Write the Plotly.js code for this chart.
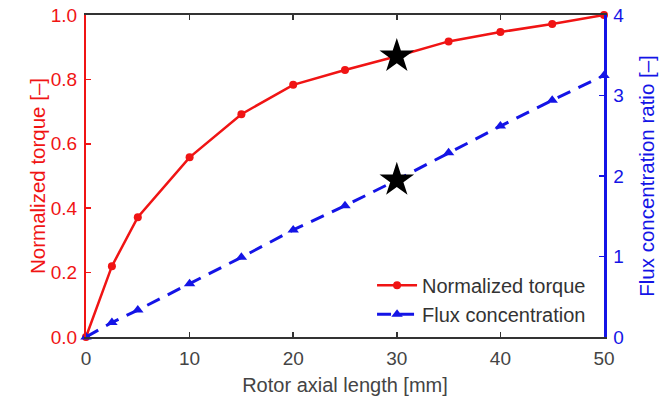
<!DOCTYPE html>
<html>
<head>
<meta charset="utf-8">
<script src="https://cdn.plot.ly/plotly-3.0.1.min.js"></script>
<style>html,body{margin:0;padding:0;background:#fff;}#chart{width:672px;height:402px;}</style>
</head>
<body>
<div id="chart"></div>
<script>
const lengthMm = [0, 2.5, 5, 10, 15, 20, 25, 30, 35, 40, 45, 50];
const torque = [0, 0.22, 0.372, 0.558, 0.692, 0.783, 0.829, 0.872, 0.918, 0.947, 0.972, 1.0];
const fluxRatio = [0, 0.18, 0.335, 0.66, 0.99, 1.33, 1.63, 1.95, 2.29, 2.62, 2.94, 3.25];
const starX = [30];
const starTorque = [0.872];
const starFlux = [1.95];
const xTicks = [0, 10, 20, 30, 40, 50];
const yTicks = [0, 0.2, 0.4, 0.6, 0.8, 1.0];
const y2Ticks = [0, 1, 2, 3, 4];

const RED = 'rgb(240,20,20)';
const BLUE = 'rgb(20,20,230)';
const FONT = '"Liberation Sans", Arial, Helvetica, sans-serif';

const traces = [
  {x: lengthMm, y: torque, name: 'Normalized torque', type: 'scatter', mode: 'lines+markers',
   line: {color: RED, width: 2.5}, marker: {symbol: 'circle', size: 8, color: RED}, cliponaxis: false},
  {x: lengthMm, y: fluxRatio, name: 'Flux concentration', type: 'scatter', mode: 'lines+markers', yaxis: 'y2',
   line: {color: BLUE, width: 3, dash: '14px,9px'}, marker: {symbol: 'triangle-up', size: 10, color: BLUE}, cliponaxis: false},
  {x: starX, y: starTorque, type: 'scatter', mode: 'markers', showlegend: false,
   marker: {symbol: 'star', size: 26, color: 'black'}, cliponaxis: false},
  {x: starX, y: starFlux, type: 'scatter', mode: 'markers', yaxis: 'y2', showlegend: false,
   marker: {symbol: 'star', size: 26, color: 'black'}, cliponaxis: false}
];

const layout = {
  width: 672, height: 402,
  margin: {l: 86, r: 68, t: 15, b: 65},
  paper_bgcolor: '#fff', plot_bgcolor: '#fff',
  font: {family: FONT, size: 19, color: '#444'},
  showlegend: true,
  legend: {x: 0.975, xanchor: 'right', y: 0.01, yanchor: 'bottom', bgcolor: 'rgba(255,255,255,0)',
           font: {family: FONT, size: 20, color: '#333'}, tracegroupgap: 0, itemwidth: 40},
  xaxis: {
    range: [0, 50], tickvals: xTicks, ticktext: xTicks.map(String),
    showline: true, linecolor: '#333', linewidth: 2, mirror: 'ticks',
    ticks: 'inside', ticklen: 5, tickwidth: 1.5, tickcolor: '#333',
    showgrid: false, zeroline: false, ticklabelstandoff: 3,
    tickfont: {family: FONT, size: 19, color: '#444'},
    title: {text: 'Rotor axial length [mm]', font: {family: FONT, size: 20, color: '#444'}, standoff: 10}
  },
  yaxis: {
    range: [0, 1], tickvals: yTicks, ticktext: yTicks.map(v => v.toFixed(1)),
    showline: true, linecolor: RED, linewidth: 2,
    ticks: 'inside', ticklen: 5, tickwidth: 1.5, tickcolor: RED,
    showgrid: false, zeroline: false, ticklabelstandoff: 3,
    tickfont: {family: FONT, size: 19, color: RED},
    title: {text: 'Normalized torque [–]', font: {family: FONT, size: 20.5, color: RED}, standoff: 0}
  },
  yaxis2: {
    range: [0, 4], tickvals: y2Ticks, ticktext: y2Ticks.map(String),
    overlaying: 'y', side: 'right', anchor: 'x',
    showline: true, linecolor: BLUE, linewidth: 2.5,
    ticks: 'inside', ticklen: 5, tickwidth: 1.5, tickcolor: BLUE,
    showgrid: false, zeroline: false, ticklabelstandoff: 3,
    tickfont: {family: FONT, size: 19, color: BLUE},
    title: {text: 'Flux concentration ratio [–]', font: {family: FONT, size: 20.5, color: BLUE}, standoff: 17}
  }
};

Plotly.newPlot('chart', traces, layout, {displayModeBar: false, staticPlot: true});
</script>
</body>
</html>
